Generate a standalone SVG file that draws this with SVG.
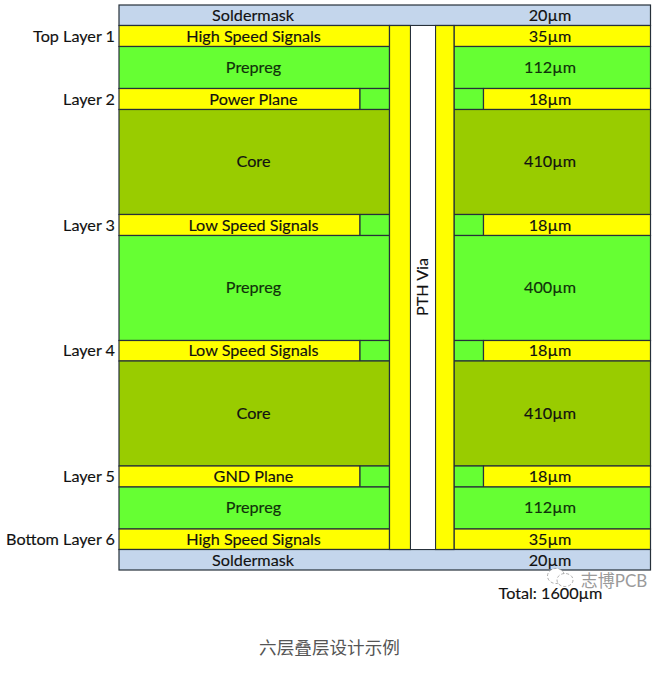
<svg xmlns="http://www.w3.org/2000/svg" width="672" height="677" viewBox="0 0 672 677">
<style>
.l{stroke:#26303a;stroke-width:1.2}
.sm{fill:#c4d6ec}.cu{fill:#ffff00}.pp{fill:#66ff33}.co{fill:#99cc00}
text{font-family:"Lato","Liberation Sans","Noto Sans CJK SC",sans-serif;font-size:16.2px;fill:#111;text-anchor:middle;stroke:#111;stroke-width:0.15}
.e{text-anchor:end}
.t{fill:#10300a;stroke:#10300a}
</style>
<rect width="672" height="677" fill="#fff"/>
<g id="soldermask-top"><rect class="sm l" x="119" y="5" width="531.500" height="20.500"/><text x="253" y="20.500">Soldermask</text><text x="550" y="20.500">20µm</text></g>
<g id="layer1"><rect class="cu l" x="119" y="25.500" width="270.500" height="21"/><rect class="cu l" x="454" y="25.500" width="196.500" height="21"/><text x="253.500" y="41.500">High Speed Signals</text><text x="550" y="41.500">35µm</text><text class="e" x="115" y="41.500">Top Layer 1</text></g>
<g id="prepreg1"><rect class="pp l" x="119" y="46.500" width="270.500" height="42"/><rect class="pp l" x="454" y="46.500" width="196.500" height="42"/><text class="t" x="253.500" y="73">Prepreg</text><text class="t" x="550" y="73">112µm</text></g>
<g id="layer2"><rect class="cu l" x="119" y="88.500" width="241" height="21"/><rect class="pp l" x="360" y="88.500" width="29.500" height="21"/><rect class="pp l" x="454" y="88.500" width="29.500" height="21"/><rect class="cu l" x="483.500" y="88.500" width="167" height="21"/><text x="253.500" y="104.500">Power Plane</text><text x="550" y="104.500">18µm</text><text class="e" x="115" y="104.500">Layer 2</text></g>
<g id="core1"><rect class="co l" x="119" y="109.500" width="270.500" height="105"/><rect class="co l" x="454" y="109.500" width="196.500" height="105"/><text x="253.500" y="167">Core</text><text x="550" y="167">410µm</text></g>
<g id="layer3"><rect class="cu l" x="119" y="214.500" width="241" height="21"/><rect class="pp l" x="360" y="214.500" width="29.500" height="21"/><rect class="pp l" x="454" y="214.500" width="29.500" height="21"/><rect class="cu l" x="483.500" y="214.500" width="167" height="21"/><text x="253.500" y="230.500">Low Speed Signals</text><text x="550" y="230.500">18µm</text><text class="e" x="115" y="230.500">Layer 3</text></g>
<g id="prepreg2"><rect class="pp l" x="119" y="235.500" width="270.500" height="105"/><rect class="pp l" x="454" y="235.500" width="196.500" height="105"/><text class="t" x="253.500" y="293">Prepreg</text><text class="t" x="550" y="293">400µm</text></g>
<g id="layer4"><rect class="cu l" x="119" y="340.500" width="241" height="20.500"/><rect class="pp l" x="360" y="340.500" width="29.500" height="20.500"/><rect class="pp l" x="454" y="340.500" width="29.500" height="20.500"/><rect class="cu l" x="483.500" y="340.500" width="167" height="20.500"/><text x="253.500" y="356">Low Speed Signals</text><text x="550" y="356">18µm</text><text class="e" x="115" y="356">Layer 4</text></g>
<g id="core2"><rect class="co l" x="119" y="361" width="270.500" height="105"/><rect class="co l" x="454" y="361" width="196.500" height="105"/><text x="253.500" y="418.500">Core</text><text x="550" y="418.500">410µm</text></g>
<g id="layer5"><rect class="cu l" x="119" y="466" width="241" height="21"/><rect class="pp l" x="360" y="466" width="29.500" height="21"/><rect class="pp l" x="454" y="466" width="29.500" height="21"/><rect class="cu l" x="483.500" y="466" width="167" height="21"/><text x="253.500" y="481.500">GND Plane</text><text x="550" y="481.500">18µm</text><text class="e" x="115" y="481.500">Layer 5</text></g>
<g id="prepreg3"><rect class="pp l" x="119" y="487" width="270.500" height="42"/><rect class="pp l" x="454" y="487" width="196.500" height="42"/><text class="t" x="253.500" y="513">Prepreg</text><text class="t" x="550" y="513">112µm</text></g>
<g id="layer6"><rect class="cu l" x="119" y="529" width="270.500" height="20.500"/><rect class="cu l" x="454" y="529" width="196.500" height="20.500"/><text x="253.500" y="544.500">High Speed Signals</text><text x="550" y="544.500">35µm</text><text class="e" x="115" y="544.500">Bottom Layer 6</text></g>
<g id="soldermask-bottom"><rect class="sm l" x="119" y="549.500" width="531.500" height="20.500"/><text x="253" y="565.500">Soldermask</text><text x="550" y="565.500">20µm</text></g>
<g id="via"><rect class="cu l" x="389.500" y="25.500" width="21" height="524"/><rect class="cu l" x="435.500" y="25.500" width="18.500" height="524"/><rect x="410.500" y="25.500" width="25" height="524" fill="#fff" stroke="#26303a" stroke-width="1"/><text transform="translate(428 287) rotate(-90)">PTH Via</text></g>
<g id="total"><text x="550.500" y="598.500">Total: 1600µm</text></g>
<g id="watermark"><ellipse cx="556" cy="576" rx="8.500" ry="7.500" fill="#fff" stroke="#999" stroke-dasharray="3 2" stroke-width="0.8"/><ellipse cx="565" cy="580" rx="8" ry="6.500" fill="#fff" stroke="#999" stroke-dasharray="3 2" stroke-width="0.8"/><text x="614" y="586.500" style="font-size:17px;fill:#9a9a9a;stroke:none">志博PCB</text></g>
<g id="caption"><text x="329.500" y="654" style="font-family:'Noto Sans CJK SC',sans-serif;font-size:17.600px;fill:#555;stroke:none">六层叠层设计示例</text></g>
</svg>
